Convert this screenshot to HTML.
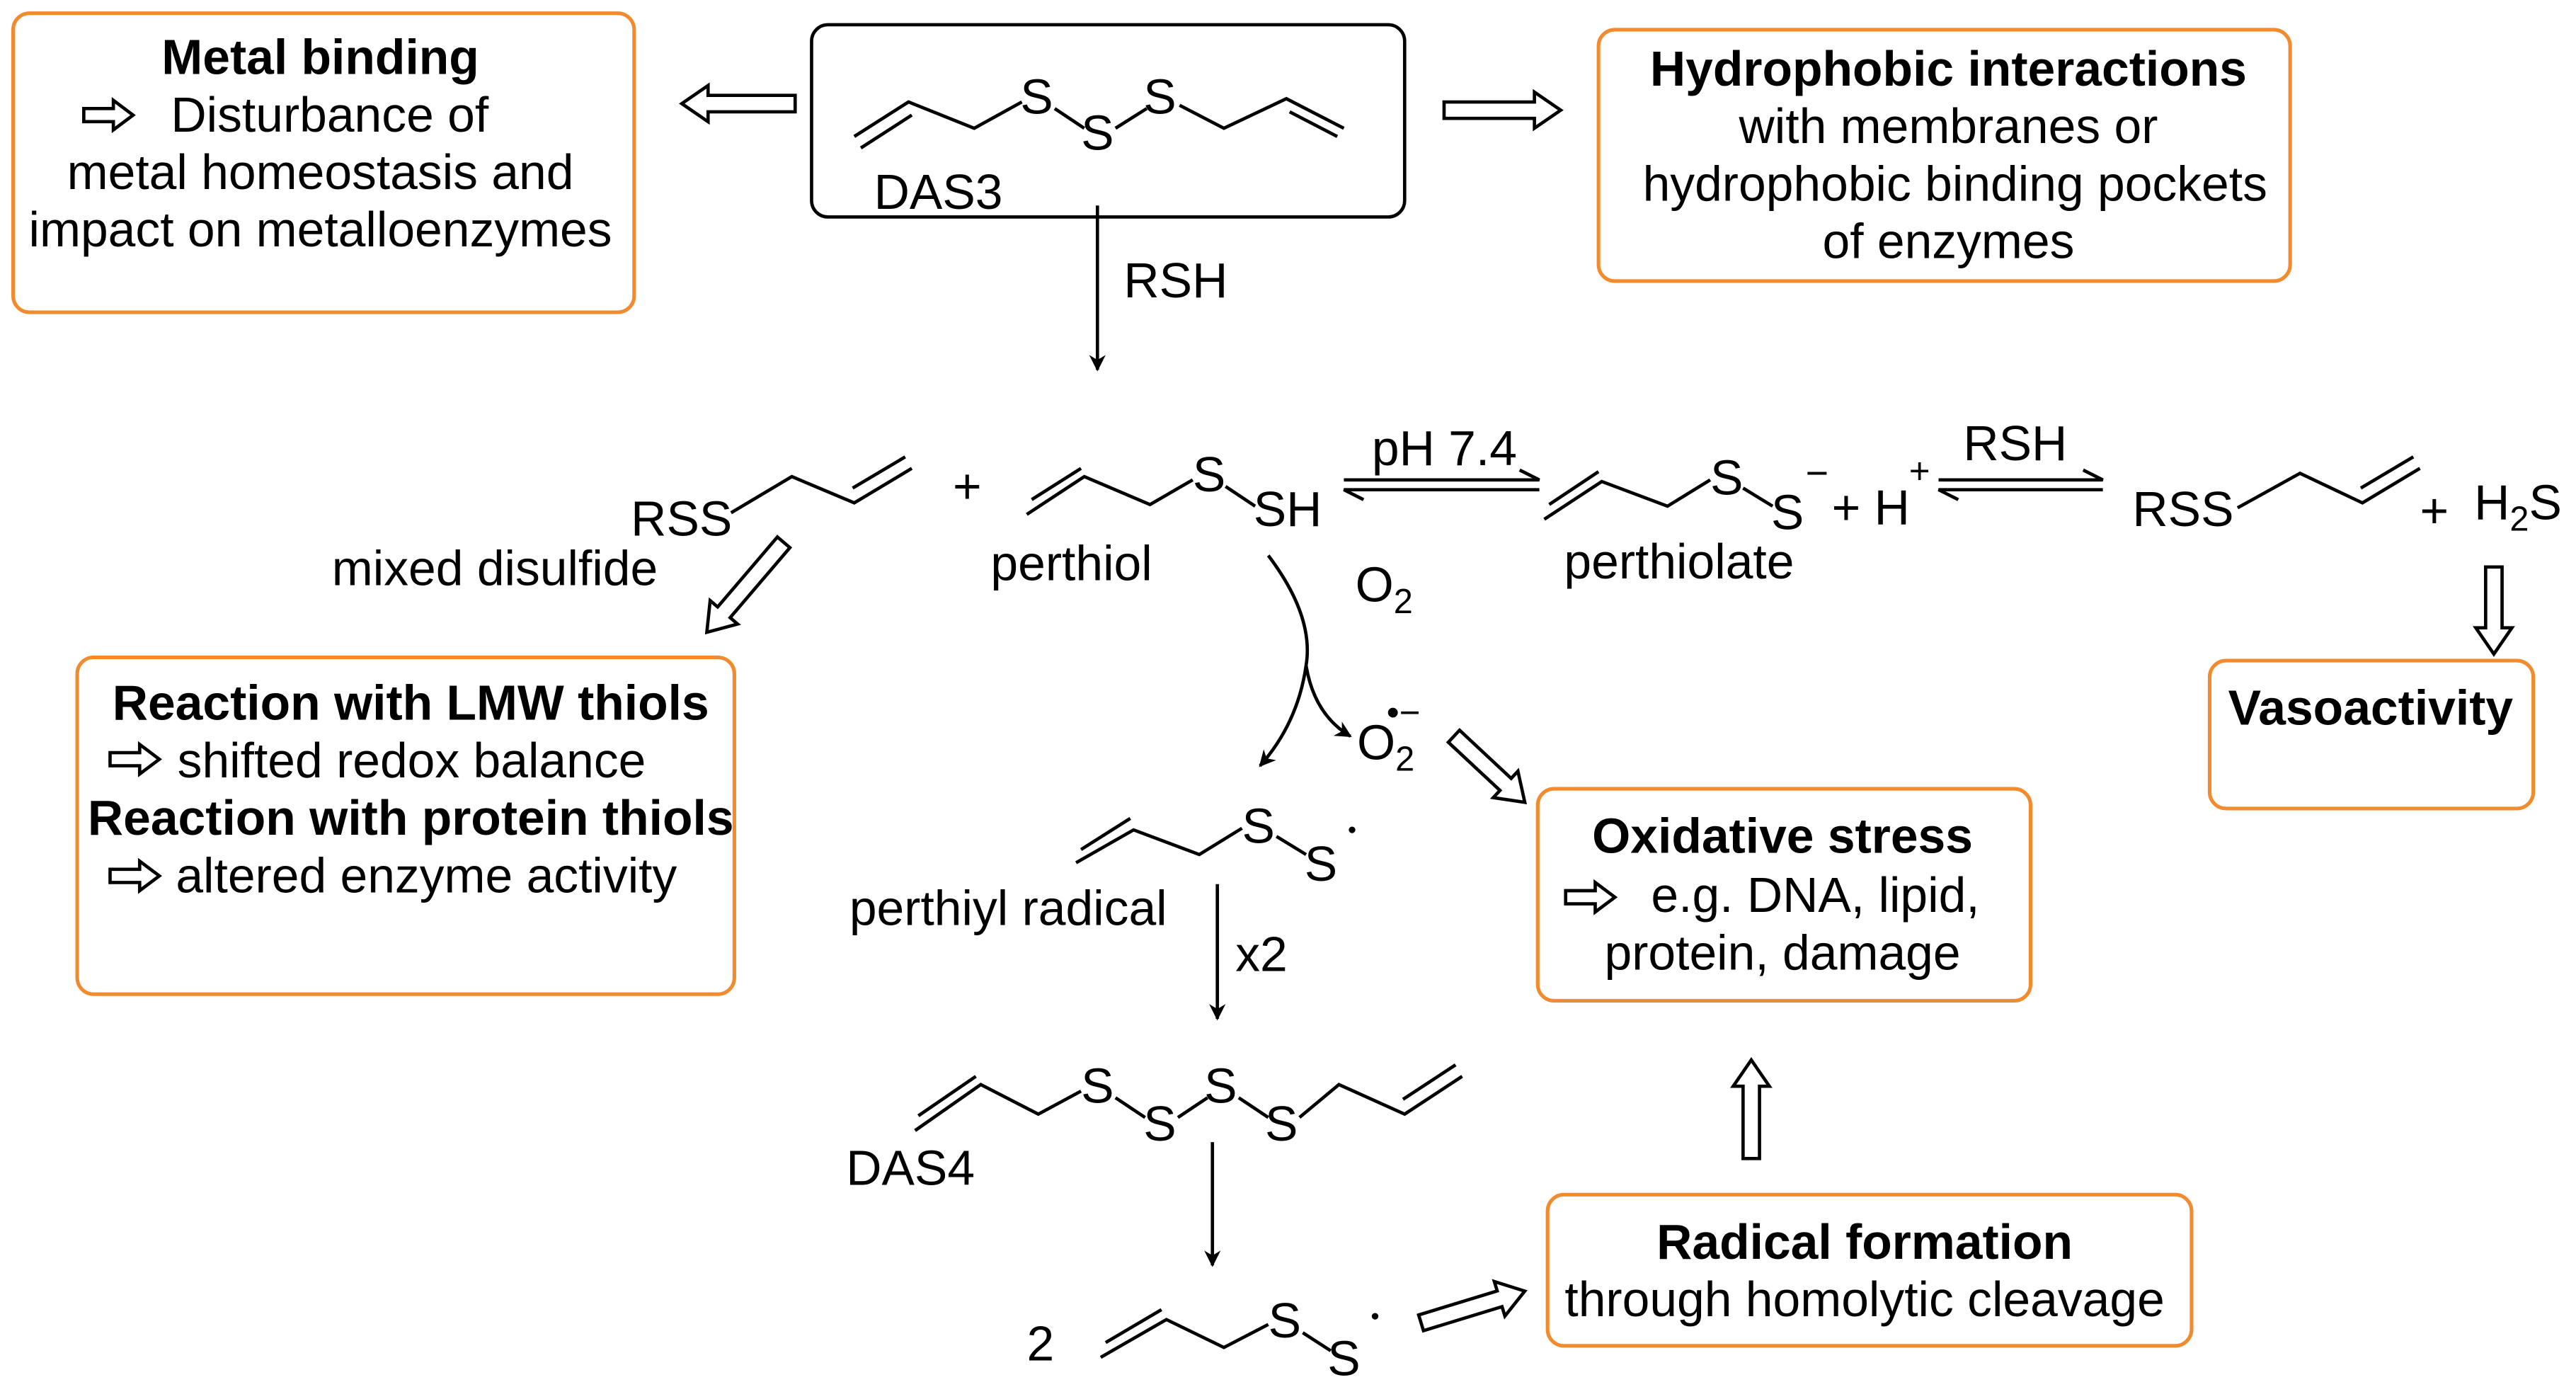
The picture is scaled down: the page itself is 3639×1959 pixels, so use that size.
<!DOCTYPE html>
<html><head><meta charset="utf-8"><style>
html,body{margin:0;padding:0;background:#fff;}
svg{display:block;}
text{font-family:"Liberation Sans","DejaVu Sans",sans-serif;font-size:30px;fill:#000;}
.b{font-weight:bold;}
.m{text-anchor:middle;}
.box{fill:none;stroke:#f28a2e;stroke-width:2.2;}
.ln{stroke:#000;stroke-width:2;fill:none;}
.ha{fill:#fff;stroke:#000;stroke-width:2;}
</style></head><body>
<svg width="3639" height="1959" viewBox="0 0 1568 844" xmlns="http://www.w3.org/2000/svg">
<defs>
<marker id="ah" markerWidth="10" markerHeight="10" refX="9" refY="5" orient="auto" markerUnits="userSpaceOnUse"><path d="M0,0 L10,5 L0,10 L3,5 Z" fill="#000"/></marker>
</defs>

<!-- boxes -->
<rect class="box" x="8" y="8" width="378" height="182" rx="10"/>
<rect x="494" y="15" width="361" height="117" rx="10" fill="none" stroke="#000" stroke-width="2"/>
<rect class="box" x="973" y="18" width="421" height="153" rx="10"/>
<rect class="box" x="47" y="400" width="400" height="205" rx="10"/>
<rect class="box" x="1345" y="402" width="197" height="90" rx="10"/>
<rect class="box" x="936" y="480" width="300" height="129" rx="10"/>
<rect class="box" x="942" y="727" width="392" height="92" rx="10"/>

<!-- small text arrows -->
<g class="ha">
<polygon transform="translate(51,70)" points="0,-4 18,-4 18,-9 30,0 18,9 18,4 0,4"/>
<polygon transform="translate(67,462)" points="0,-4 18,-4 18,-9 30,0 18,9 18,4 0,4"/>
<polygon transform="translate(67,533)" points="0,-4 18,-4 18,-9 30,0 18,9 18,4 0,4"/>
<polygon transform="translate(953,546)" points="0,-4 18,-4 18,-9 30,0 18,9 18,4 0,4"/>
</g>

<!-- box texts -->
<text class="b m" x="195" y="45">Metal binding</text>
<text x="104" y="80">Disturbance of</text>
<text class="m" x="195" y="115">metal homeostasis and</text>
<text class="m" x="195" y="150">impact on metalloenzymes</text>

<text class="b m" x="1186" y="52">Hydrophobic interactions</text>
<text class="m" x="1186" y="87">with membranes or</text>
<text class="m" x="1190" y="122">hydrophobic binding pockets</text>
<text class="m" x="1186" y="157">of enzymes</text>

<text class="b m" x="250" y="438">Reaction with LMW thiols</text>
<text x="108" y="473">shifted redox balance</text>
<text class="b m" x="250" y="508">Reaction with protein thiols</text>
<text x="107" y="543">altered enzyme activity</text>

<text class="b m" x="1443" y="441">Vasoactivity</text>

<text class="b m" x="1085" y="519">Oxidative stress</text>
<text x="1005" y="555">e.g. DNA, lipid,</text>
<text class="m" x="1085" y="590">protein, damage</text>

<text class="b m" x="1135" y="766">Radical formation</text>
<text class="m" x="1135" y="801">through homolytic cleavage</text>

<!-- hollow arrows -->
<g class="ha">
<polygon transform="translate(484,63) rotate(180)" points="0,-5 53,-5 53,-11 69,0 53,11 53,5 0,5"/>
<polygon transform="translate(879,67)" points="0,-5 55,-5 55,-11 71,0 55,11 55,5 0,5"/>
<polygon transform="translate(477,330) rotate(130.5)" points="0,-5 56,-5 56,-11 72,0 56,11 56,5 0,5"/>
<polygon transform="translate(1518,345) rotate(90)" points="0,-5 37,-5 37,-11 53,0 37,11 37,5 0,5"/>
<polygon transform="translate(885,448) rotate(43)" points="0,-5 43,-5 43,-11 59,0 43,11 43,5 0,5"/>
<polygon transform="translate(1066,705) rotate(-90)" points="0,-5 44,-5 44,-11 60,0 44,11 44,5 0,5"/>
<polygon transform="translate(865,805) rotate(-17)" points="0,-5 50,-5 50,-11 66,0 50,11 50,5 0,5"/>
</g>

<!-- DAS3 -->
<path class="ln" d="M520,83 L553,62 L593,78 L622,62"/>
<path class="ln" d="M524,90 L555,70"/>
<path class="ln" d="M642,66 L660,78"/>
<path class="ln" d="M679,78 L698,66"/>
<path class="ln" d="M718,64 L745,78 L783,60 L818,78"/>
<path class="ln" d="M785,68 L814,83"/>
<text x="621" y="69">S</text><text x="658" y="91">S</text><text x="696" y="69">S</text>
<text x="532" y="127">DAS3</text>

<line class="ln" x1="668" y1="125" x2="668" y2="225" marker-end="url(#ah)"/>
<text x="684" y="181">RSH</text>

<!-- row 2 -->
<text x="384" y="326">RSS</text>
<path class="ln" d="M445,312 L482,290 L520,306 L555,285"/>
<path class="ln" d="M519,297 L551,278"/>
<text x="580" y="306">+</text>
<path class="ln" d="M625,313 L660,290 L700,307 L726,292"/>
<path class="ln" d="M628,304 L658,285"/>
<path class="ln" d="M746,296 L764,308"/>
<text x="726" y="299">S</text><text x="763" y="320">SH</text>
<text x="202" y="356">mixed disulfide</text>
<text x="603" y="353">perthiol</text>

<text x="835" y="283">pH 7.4</text>
<path class="ln" d="M818,292 L937,292 L925,286"/>
<path class="ln" d="M937,298 L818,298 L830,304"/>

<path class="ln" d="M940,316 L975,293 L1015,308 L1041,292"/>
<path class="ln" d="M943,307 L973,287"/>
<path class="ln" d="M1061,297 L1079,308"/>
<text x="1041" y="301">S</text><text x="1078" y="322">S</text>
<text x="1099" y="296" style="font-size:24px">−</text>
<text x="1115" y="319">+ H</text>
<text x="1162" y="294" style="font-size:22px">+</text>
<text x="952" y="352">perthiolate</text>

<text x="1195" y="280">RSH</text>
<path class="ln" d="M1180,292 L1280,292 L1268,286"/>
<path class="ln" d="M1280,298 L1180,298 L1192,304"/>

<text x="1298" y="320">RSS</text>
<path class="ln" d="M1362,309 L1400,288 L1438,306 L1473,285"/>
<path class="ln" d="M1437,297 L1469,278"/>
<text x="1473" y="321">+</text>
<text x="1506" y="316">H<tspan style="font-size:21px" dy="7">2</tspan><tspan dy="-7">S</tspan></text>

<!-- curved arrow -->
<path class="ln" d="M772,338 Q800,375 795,405 Q790,440 767,466" marker-end="url(#ah)"/>
<path class="ln" d="M795,405 Q800,435 822,448" marker-end="url(#ah)"/>
<text x="825" y="366">O<tspan style="font-size:21px" dy="7">2</tspan></text>
<text x="826" y="462">O<tspan style="font-size:21px" dy="7">2</tspan></text>
<text x="844" y="441" style="font-size:22px">•−</text>

<!-- perthiyl radical -->
<path class="ln" d="M655,525 L690,505 L730,520 L756,504"/>
<path class="ln" d="M658,517 L688,498"/>
<path class="ln" d="M777,509 L795,520"/>
<text x="756" y="513">S</text><text x="794" y="536">S</text>
<circle cx="823" cy="505" r="2" fill="#000"/>
<text x="517" y="563">perthiyl radical</text>
<line class="ln" x1="741" y1="538" x2="741" y2="620" marker-end="url(#ah)"/>
<text x="752" y="591">x2</text>

<!-- DAS4 -->
<path class="ln" d="M557,688 L597,660 L632,678 L658,664"/>
<path class="ln" d="M559,679 L594,655"/>
<path class="ln" d="M679,668 L697,680"/>
<path class="ln" d="M717,680 L735,668"/>
<path class="ln" d="M754,668 L772,680"/>
<path class="ln" d="M791,680 L815,660 L855,678 L890,655"/>
<path class="ln" d="M854,669 L886,648"/>
<text x="658" y="671">S</text><text x="696" y="694">S</text><text x="733" y="671">S</text><text x="770" y="694">S</text>
<text x="515" y="721">DAS4</text>
<line class="ln" x1="738" y1="695" x2="738" y2="770" marker-end="url(#ah)"/>

<!-- 2 radicals -->
<text x="625" y="828">2</text>
<path class="ln" d="M670,826 L710,803 L745,820 L772,806"/>
<path class="ln" d="M673,817 L707,797"/>
<path class="ln" d="M793,811 L810,822"/>
<text x="772" y="814">S</text><text x="808" y="837">S</text>
<circle cx="837" cy="801" r="2" fill="#000"/>
</svg>
</body></html>
